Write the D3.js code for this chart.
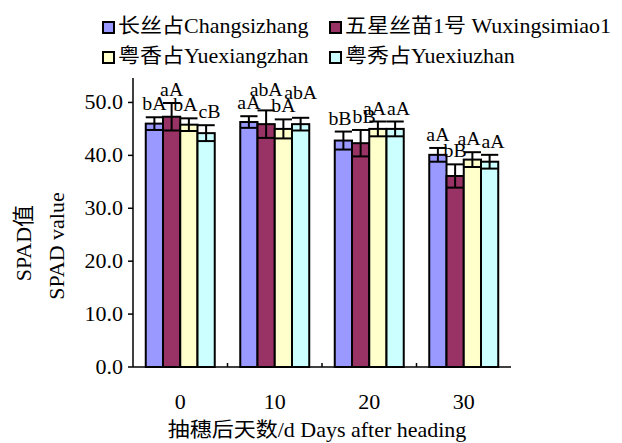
<!DOCTYPE html>
<html><head><meta charset="utf-8">
<script src="https://cdn.jsdelivr.net/npm/d3@7"></script>
<style>
body{margin:0;background:#fff;}
text{font-family:"Liberation Serif","Times New Roman",serif;fill:#000;}
.cjk{font-family:"Noto Sans CJK SC",sans-serif;}
.lat{font-family:"Liberation Serif","Times New Roman",serif;}
</style></head>
<body><svg id="c" width="622" height="443"></svg>
<script>
const categories = ["0","10","20","30"];
const seriesNames = ["长丝占Changsizhang","五星丝苗1号 Wuxingsimiao1","粤香占Yuexiangzhan","粤秀占Yuexiuzhan"];
const seriesColors = ["#9999FF","#993366","#FFFFCC","#CCFFFF"];
const changsizhang = [46.0, 46.3, 42.8, 40.1];
const changsizhangErr = [1.2, 1.1, 1.7, 1.3];
const wuxingsimiao = [47.3, 45.9, 42.3, 36.1];
const wuxingsimiaoErr = [2.6, 2.6, 2.5, 2.2];
const yuexiangzhan = [45.8, 45.0, 45.0, 39.2];
const yuexiangzhanErr = [1.2, 1.8, 1.4, 1.4];
const yuexiuzhan = [44.2, 45.9, 45.0, 38.8];
const yuexiuzhanErr = [1.5, 1.2, 1.4, 1.3];
const changsizhangLbl = ["bA","aA","bB","aA"];
const wuxingsimiaoLbl = ["aA","abA","bB","bB"];
const yuexiangzhanLbl = ["bA","bA","aA","aA"];
const yuexiuzhanLbl = ["cB","abA","aA","aA"];
const yTicks = [0,10,20,30,40,50];

const values = [changsizhang, wuxingsimiao, yuexiangzhan, yuexiuzhan];
const errs = [changsizhangErr, wuxingsimiaoErr, yuexiangzhanErr, yuexiuzhanErr];
const lbls = [changsizhangLbl, wuxingsimiaoLbl, yuexiangzhanLbl, yuexiuzhanLbl];

const SX = 1.1; // horizontal stretch of the reference glyphs
const svg = d3.select("#c");
const mLeft = 133, mRight = 511, mBottom = 367, mTop = 76;

const x0 = d3.scaleBand().domain(categories).range([mLeft, mRight]).paddingInner(0.27).paddingOuter(0.135);
const x1 = d3.scaleBand().domain(d3.range(4)).range([0, x0.bandwidth()]);
const y = d3.scaleLinear().domain([0, 55]).range([mBottom, mTop]);

function fillRuns(t, str){
  const runs = str.match(/[\u3400-\u9fff]+|[^\u3400-\u9fff]+/g) || [];
  runs.forEach(r => {
    t.append("tspan").attr("class", /[\u3400-\u9fff]/.test(r) ? "cjk" : "lat").text(r);
  });
  return t;
}
function stext(g, x, yy, str, size, anchor){
  const t = g.append("text")
    .attr("transform", `translate(${x},${yy}) scale(${SX},1)`)
    .attr("text-anchor", anchor || "start")
    .style("font-size", size + "px");
  return fillRuns(t, str);
}

// bars
const groups = svg.append("g").selectAll("g").data(categories).join("g")
  .attr("transform", d => `translate(${x0(d)},0)`);
groups.each(function(cat, ci){
  const g = d3.select(this);
  for (let s = 0; s < 4; s++){
    const v = values[s][ci];
    const bx = x1(s), bw = x1.bandwidth();
    g.append("rect").attr("x", bx).attr("y", y(v)).attr("width", bw).attr("height", y(0) - y(v))
      .attr("fill", seriesColors[s]).attr("stroke", "#000").attr("stroke-width", 2);
  }
  for (let s = 0; s < 4; s++){
    const v = values[s][ci], e = errs[s][ci];
    const bx = x1(s), bw = x1.bandwidth(), cx = bx + bw/2, hw = bw*0.5;
    const eg = g.append("g").attr("stroke", "#000").attr("stroke-width", 2);
    eg.append("line").attr("x1", cx).attr("x2", cx).attr("y1", y(v - e)).attr("y2", y(v + e));
    eg.append("line").attr("x1", cx - hw).attr("x2", cx + hw).attr("y1", y(v + e)).attr("y2", y(v + e));
    eg.append("line").attr("x1", cx - hw).attr("x2", cx + hw).attr("y1", y(v - e)).attr("y2", y(v - e));
  }
  // significance labels, nudged so that neighbours do not collide
  const items = [];
  for (let s = 0; s < 4; s++){
    const v = values[s][ci], e = errs[s][ci];
    const t = stext(g, 0, 0, lbls[s][ci], 18, "middle");
    const w = t.node().getComputedTextLength() * SX;
    items.push({t, w, c: x1(s) + x1.bandwidth()/2, b: y(v + e) - 7});
  }
  for (let i = 1; i < items.length; i++){
    const p = items[i-1], q = items[i];
    const ov = (p.c + p.w/2) - (q.c - q.w/2);
    if (ov > 0 && Math.abs(q.b - p.b) < 8){
      if (ov <= 10){ p.c -= ov/2 + 0.5; q.c += ov/2 + 0.5; }
      else if (q.b < p.b){ q.b = p.b - 13; }
      else { p.b = q.b - 13; }
    }
  }
  items.forEach(it => it.t.attr("transform", `translate(${it.c},${it.b}) scale(${SX},1)`));
});

// axes
const ax = svg.append("g").attr("stroke", "#000").attr("stroke-width", 1.5);
ax.append("line").attr("x1", mLeft).attr("x2", mLeft).attr("y1", y(0)).attr("y2", mTop + 2);
ax.append("line").attr("x1", mLeft).attr("x2", mRight).attr("y1", y(0)).attr("y2", y(0));
yTicks.forEach(t => {
  ax.append("line").attr("x1", mLeft - 5).attr("x2", mLeft).attr("y1", y(t)).attr("y2", y(t));
  stext(svg, mLeft - 10, y(t) + 6.5, t.toFixed(1), 20, "end");
});
for (let i = 1; i < categories.length; i++){
  const bx = x0.range()[0] + i * x0.step();
  ax.append("line").attr("x1", bx).attr("x2", bx).attr("y1", y(0)).attr("y2", y(0) - 4);
}
categories.forEach(c => stext(svg, x0(c) + x0.bandwidth()/2, 409, c, 20, "middle"));

// axis titles
stext(svg, 317, 437, "抽穗后天数/d Days after heading", 20, "middle");
fillRuns(svg.append("text").attr("transform", "translate(31,243) rotate(-90)")
  .attr("text-anchor", "middle").style("font-size", "22px"), "SPAD值");
fillRuns(svg.append("text").attr("transform", "translate(64,246) rotate(-90)")
  .attr("text-anchor", "middle").style("font-size", "22px"), "SPAD value");

// legend
const legPos = [[102, 22], [329, 22], [102, 52], [329, 52]];
seriesNames.forEach((n, i) => {
  const [lx, ly] = legPos[i];
  svg.append("rect").attr("x", lx + 1).attr("y", ly).attr("width", 11).attr("height", 11)
    .attr("fill", seriesColors[i]).attr("stroke", "#000").attr("stroke-width", 2);
  stext(svg, lx + 16, ly + 11, n, 20, "start");
});
</script></body></html>
